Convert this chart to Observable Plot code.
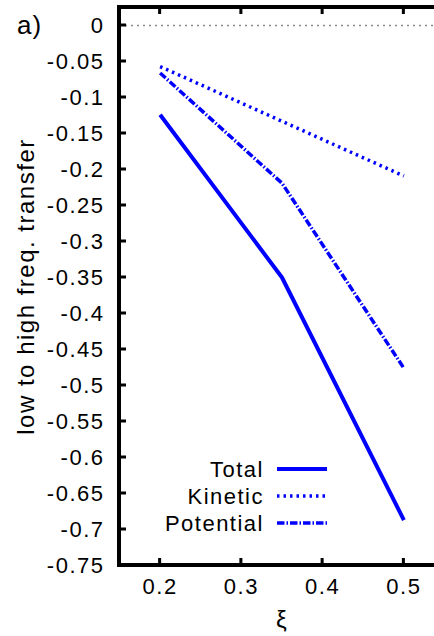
<!DOCTYPE html>
<html>
<head>
<meta charset="utf-8">
<script src="https://cdn.jsdelivr.net/npm/d3@7"></script>
<script src="https://cdn.jsdelivr.net/npm/@observablehq/plot@0.6"></script>
<style>
  html, body { margin: 0; padding: 0; overflow: hidden; background: #fff; }
  #wrap { position: relative; width: 434px; height: 636px; overflow: hidden; }
</style>
</head>
<body>
<div id="wrap">
  <div id="chart"></div>
</div>
<script>
// ---- data ----
const xi = [0.2, 0.35, 0.5];
const totalValues = [-0.124, -0.35, -0.687];
const kineticValues = [-0.057, -0.133, -0.209];
const potentialValues = [-0.066, -0.219, -0.476];
const seriesNames = ["Total", "Kinetic", "Potential"];
const xTicks = [0.2, 0.3, 0.4, 0.5];
const yTicks = [0, -0.05, -0.1, -0.15, -0.2, -0.25, -0.3, -0.35, -0.4, -0.45, -0.5, -0.55, -0.6, -0.65, -0.7, -0.75];
const panelLabel = "a)";
const xLabel = "ξ";
const yLabel = "low to high freq. transfer";

// ---- styles ----
const dashes = { Total: null, Kinetic: "2.5,4", Potential: "7.5,2,1.5,2" };
const widths = { Total: 4, Kinetic: 3.5, Potential: 3.5 };
const blue = "#0000ff";
const fontFamily = "'Liberation Sans', Arial, sans-serif";

const valuesBySeries = { Total: totalValues, Kinetic: kineticValues, Potential: potentialValues };
const rows = seriesNames.flatMap(s => xi.map((x, i) => ({ series: s, x, y: valuesBySeries[s][i] })));

const fmt = d => String(+(+d).toFixed(2));

const lineMarks = seriesNames.map(s =>
  Plot.line(rows.filter(r => r.series === s), {
    x: "x", y: "y", stroke: blue, strokeWidth: widths[s],
    strokeDasharray: dashes[s], strokeLinejoin: "miter", strokeLinecap: "butt"
  })
);

// frame, inward ticks (as filled bars), legend and panel label — positioned via Plot's scales/dimensions
function overlayMark(index, scales, values, dimensions) {
  const { width, height, marginLeft, marginTop, marginRight, marginBottom } = dimensions;
  const g = d3.create("svg:g").attr("font-family", fontFamily);
  const left = marginLeft, top = marginTop, right = width - marginRight, bottom = height - marginBottom;
  const tk = 7, tw = 3, fw = 4;
  const bars = g.append("g").attr("fill", "#000").attr("stroke", "none");
  // frame borders
  bars.append("rect").attr("x", left - fw / 2).attr("y", top - fw / 2).attr("width", fw).attr("height", bottom - top + fw);
  bars.append("rect").attr("x", right - fw / 2).attr("y", top - fw / 2).attr("width", fw).attr("height", bottom - top + fw);
  bars.append("rect").attr("x", left - fw / 2).attr("y", top - fw / 2).attr("width", right - left + fw).attr("height", fw);
  bars.append("rect").attr("x", left - fw / 2).attr("y", bottom - fw / 2).attr("width", right - left + fw).attr("height", fw);
  // inward ticks
  yTicks.forEach(v => {
    const y = scales.y(v);
    bars.append("rect").attr("x", left).attr("y", y - tw / 2).attr("width", tk).attr("height", tw);
  });
  xTicks.forEach(v => {
    const x = scales.x(v);
    bars.append("rect").attr("x", x - tw / 2).attr("y", bottom - tk).attr("width", tw).attr("height", tk);
    bars.append("rect").attr("x", x - tw / 2).attr("y", top).attr("width", tw).attr("height", tk);
  });

  g.append("text")
    .attr("x", left - 102).attr("y", top + 27)
    .attr("text-anchor", "start").attr("fill", "#000")
    .attr("font-size", 26).attr("letter-spacing", "1px")
    .text(panelLabel);
  const textRight = left + 145, sample0 = left + 158, sample1 = left + 208;
  const base0 = top + 470, step = 27;
  seriesNames.forEach((s, i) => {
    const yb = base0 + i * step;
    g.append("text")
      .attr("x", textRight).attr("y", yb)
      .attr("text-anchor", "end").attr("fill", "#000")
      .attr("font-size", 22)
      .attr("letter-spacing", "1.5px")
      .text(s);
    g.append("line")
      .attr("x1", sample0).attr("x2", sample1)
      .attr("y1", yb - 8).attr("y2", yb - 8)
      .attr("stroke", blue)
      .attr("stroke-width", widths[s])
      .attr("stroke-dasharray", dashes[s]);
  });
  return g.node();
}

const chart = Plot.plot({
  width: 444,
  height: 636,
  marginLeft: 119,
  marginRight: 0,
  marginTop: 7,
  marginBottom: 71,
  style: { fontFamily, fontSize: "22px", letterSpacing: "1.5px", maxWidth: "none", color: "#000" },
  x: { domain: [0.15, 0.55] },
  y: { domain: [-0.75, 0.025] },
  marks: [
    Plot.ruleY([0], { stroke: "#888", strokeWidth: 1.5, strokeDasharray: "2,4" }),
    ...lineMarks,
    Plot.axisY(yTicks, { tickSize: 0, tickPadding: 15, tickFormat: fmt, label: null }),
    Plot.axisX(xTicks, { tickSize: 0, tickPadding: 13, tickFormat: fmt, label: null }),
    Plot.axisX([], { tickSize: 0, label: xLabel, labelAnchor: "center", labelOffset: 62, labelArrow: "none", fontSize: 24 }),
    Plot.axisY([], { tickSize: 0, label: yLabel, labelAnchor: "center", labelOffset: 103, labelArrow: "none", fontSize: 24, dy: -11 }),
    overlayMark
  ]
});
document.getElementById("chart").appendChild(chart);
</script>
</body>
</html>
